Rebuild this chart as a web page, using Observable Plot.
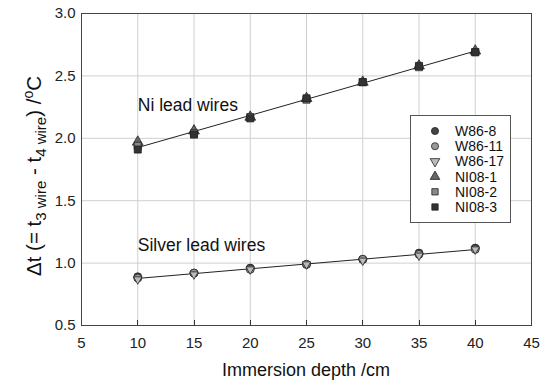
<!DOCTYPE html>
<html><head><meta charset="utf-8">
<script src="https://cdn.jsdelivr.net/npm/d3@7"></script>
<script src="https://cdn.jsdelivr.net/npm/@observablehq/plot@0.6"></script>
<style>body{margin:0;background:#fff;font-family:"Liberation Sans",Arial,sans-serif}</style>
</head><body><div id="chart"></div>
<script>
const depths = [10, 15, 20, 25, 30, 35, 40];
const seriesNames = ["W86-8", "W86-11", "W86-17", "NI08-1", "NI08-2", "NI08-3"];
const w86_8  = [0.89, 0.92, 0.96, 0.99, 1.03, 1.08, 1.12];
const w86_11 = [0.88, 0.92, 0.95, 0.99, 1.03, 1.07, 1.11];
const w86_17 = [0.87, 0.91, 0.95, 0.99, 1.02, 1.06, 1.11];
const ni08_1 = [1.97, 2.06, 2.17, 2.32, 2.45, 2.58, 2.70];
const ni08_2 = [1.94, 2.04, 2.17, 2.31, 2.45, 2.57, 2.69];
const ni08_3 = [1.91, 2.03, 2.16, 2.32, 2.45, 2.58, 2.69];
const groups = ["Silver", "Silver", "Silver", "Ni", "Ni", "Ni"];
const xTicks = [5, 10, 15, 20, 25, 30, 35, 40, 45];
const yTicks = [0.5, 1.0, 1.5, 2.0, 2.5, 3.0];
const annotations = [{x: 10, y: 2.26, text: "Ni lead wires"}, {x: 10, y: 1.14, text: "Silver lead wires"}];

const downTriangle = {draw(ctx, size) {
  const h = Math.sqrt(size / (Math.sqrt(3) / 4));
  const r = h / Math.sqrt(3);
  ctx.moveTo(0, r);
  ctx.lineTo(h / 2, -r / 2);
  ctx.lineTo(-h / 2, -r / 2);
  ctx.closePath();
}};
const symbols = [d3.symbolCircle, d3.symbolCircle, downTriangle, d3.symbolTriangle, d3.symbolSquare, d3.symbolSquare];
const fills = ["#444", "#999", "#bbb", "#666", "#888", "#333"];
const radii = [4, 4, 3.2, 4, 4, 4];
const allValues = [w86_8, w86_11, w86_17, ni08_1, ni08_2, ni08_3];

const data = [];
seriesNames.forEach((s, i) => depths.forEach((d, j) => data.push({series: s, group: groups[i], x: d, y: allValues[i][j]})));

const chart = Plot.plot({
  width: 547, height: 381,
  marginLeft: 81, marginRight: 16, marginTop: 13, marginBottom: 56,
  style: {fontFamily: "Liberation Sans, Arial, sans-serif", fontSize: "15px", color: "#222", background: "#fff"},
  x: {type: "linear", domain: [5, 45], label: null},
  y: {type: "linear", domain: [0.5, 3], label: null},
  symbol: {domain: seriesNames, range: symbols},
  marks: [
    Plot.gridX(xTicks.slice(1, -1), {stroke: "#cfcfcf", strokeOpacity: 1, strokeWidth: 1}),
    Plot.gridY(yTicks.slice(1, -1), {stroke: "#cfcfcf", strokeOpacity: 1, strokeWidth: 1}),
    Plot.frame({stroke: "#444", strokeWidth: 1}),
    Plot.axisX({ticks: xTicks, tickSize: 0, tickPadding: 12, tickFormat: d => String(d), fontSize: 15}),
    Plot.axisY({ticks: yTicks, tickSize: 0, tickPadding: 6, tickFormat: d => d.toFixed(1), fontSize: 15}),
    Plot.linearRegressionY(data, {x: "x", y: "y", z: "group", ci: 0, stroke: "#222", strokeWidth: 1}),
    ...seriesNames.map((s, i) => Plot.dot(data.filter(d => d.series === s), {
      x: "x", y: "y", symbol: () => s, r: radii[i], fill: fills[i], stroke: "#222", strokeWidth: 0.8
    })),
    Plot.text(annotations, {x: "x", y: "y", text: "text", textAnchor: "start", fontSize: 17.5, fill: "#111"})
  ]
});
document.getElementById("chart").appendChild(chart);

const svg = d3.select(chart);
const xs = chart.scale("x"), ys = chart.scale("y");
// inward x ticks
xTicks.slice(1, -1).forEach(t => {
  const px = Math.round(xs.apply(t)) + 0.5, py = ys.apply(0.5);
  svg.append("line").attr("x1", px).attr("x2", px).attr("y1", py).attr("y2", py - 5)
    .attr("stroke", "#333").attr("stroke-width", 1);
});
// Y axis label with subscripts
const yl = svg.append("text")
  .attr("transform", "translate(41,176) rotate(-90)")
  .attr("text-anchor", "middle")
  .attr("font-size", 20.5).attr("fill", "#111")
  .attr("font-family", "Liberation Sans, Arial, sans-serif");
yl.append("tspan").text("\u0394t (= t");
yl.append("tspan").attr("dy", 5).attr("font-size", 15).text("3 wire");
yl.append("tspan").attr("dy", -5).text(" - t");
yl.append("tspan").attr("dy", 5).attr("font-size", 15).text("4 wire");
yl.append("tspan").attr("dy", -5).text(") /");
yl.append("tspan").attr("dy", -8).attr("font-size", 14).text("o");
yl.append("tspan").attr("dy", 8).text("C");
// X axis label
svg.append("text").attr("x", 306).attr("y", 376).attr("text-anchor", "middle")
  .attr("font-size", 18).attr("fill", "#111").text("Immersion depth /cm");

// Legend
const lg = svg.append("g").attr("text-anchor", "start");
lg.append("rect").attr("x", 410.5).attr("y", 115.5).attr("width", 100).attr("height", 107)
  .attr("fill", "#fff").attr("stroke", "#555");
seriesNames.forEach((s, i) => {
  const cy = 131 + i * 15.2;
  lg.append("path").attr("transform", `translate(435,${cy})`)
    .attr("d", d3.symbol(symbols[i], 40)())
    .attr("fill", fills[i]).attr("stroke", "#222").attr("stroke-width", 0.8);
  lg.append("text").attr("x", 455).attr("y", cy).attr("dy", "0.35em")
    .attr("text-anchor", "start")
    .attr("font-size", 14).attr("fill", "#111").text(s);
});
</script></body></html>
